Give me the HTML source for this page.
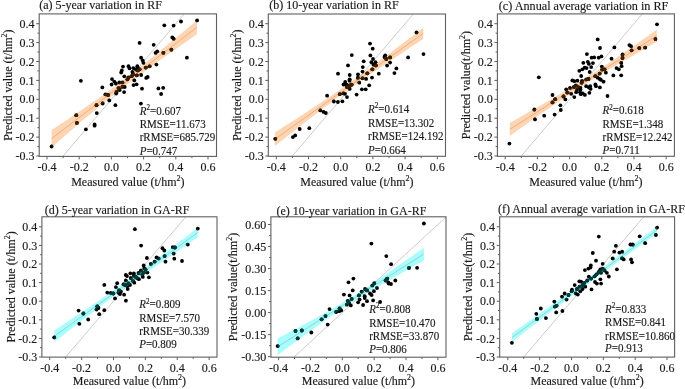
<!DOCTYPE html>
<html><head><meta charset="utf-8"><style>
html,body{margin:0;padding:0;background:#fff;}
svg{display:block;font-family:"Liberation Serif", serif;will-change:transform;} text{stroke:#1a1a1a;stroke-width:0.15px;}
</style></head><body>
<svg width="685" height="389" viewBox="0 0 685 389">
<rect width="685" height="389" fill="#fff"/>
<clipPath id="clipa"><rect x="39.2" y="13.9" width="177.3" height="142.5"/></clipPath>
<line x1="62.76" y1="156.4" x2="184.15" y2="13.9" stroke="#b0b0b0" stroke-width="0.65"/>
<path d="M51.6,130 L57.65,126 L63.71,121.98 L69.76,117.93 L75.82,113.86 L81.87,109.75 L87.93,105.61 L93.98,101.43 L100.03,97.19 L106.09,92.89 L112.14,88.51 L118.2,84.05 L124.25,79.5 L130.3,74.85 L136.36,70.12 L142.41,65.3 L148.47,60.43 L154.52,55.51 L160.58,50.55 L166.63,45.57 L172.68,40.57 L178.74,35.56 L184.79,30.54 L190.85,25.52 L196.9,20.5 L196.9,34.3 L190.85,38.55 L184.79,42.79 L178.74,47.04 L172.68,51.3 L166.63,55.57 L160.58,59.85 L154.52,64.16 L148.47,68.5 L142.41,72.9 L136.36,77.35 L130.3,81.88 L124.25,86.5 L118.2,91.21 L112.14,96.02 L106.09,100.91 L100.03,105.88 L93.98,110.91 L87.93,115.99 L81.87,121.12 L75.82,126.28 L69.76,131.47 L63.71,136.69 L57.65,141.94 L51.6,147.2Z" fill="#f57b07" fill-opacity="0.31" clip-path="url(#clipa)"/>
<line x1="51.6" y1="138.6" x2="196.9" y2="27.4" stroke="#f4805a" stroke-width="0.7" stroke-opacity="0.75"/>
<g fill="#000" clip-path="url(#clipa)"><circle cx="139.6" cy="42.9" r="1.9"/><circle cx="153.7" cy="44.8" r="1.9"/><circle cx="155.5" cy="52.8" r="1.9"/><circle cx="157.2" cy="51.3" r="1.9"/><circle cx="141.1" cy="57.7" r="1.9"/><circle cx="142.7" cy="60.3" r="1.9"/><circle cx="143.4" cy="62.8" r="1.9"/><circle cx="164.3" cy="25.3" r="1.9"/><circle cx="173.6" cy="25.6" r="1.9"/><circle cx="181" cy="21.5" r="1.9"/><circle cx="197.1" cy="20.4" r="1.9"/><circle cx="172.3" cy="37.4" r="1.9"/><circle cx="173.6" cy="38.7" r="1.9"/><circle cx="163.4" cy="52.8" r="1.9"/><circle cx="171.4" cy="49.7" r="1.9"/><circle cx="186.9" cy="57.7" r="1.9"/><circle cx="80.9" cy="80.8" r="1.9"/><circle cx="96.5" cy="105.2" r="1.9"/><circle cx="123" cy="66.6" r="1.9"/><circle cx="128.5" cy="66.2" r="1.9"/><circle cx="129.5" cy="68.3" r="1.9"/><circle cx="133.3" cy="68.1" r="1.9"/><circle cx="121.8" cy="70.4" r="1.9"/><circle cx="121.2" cy="72.5" r="1.9"/><circle cx="132.4" cy="72" r="1.9"/><circle cx="124.3" cy="76.3" r="1.9"/><circle cx="128.5" cy="77.3" r="1.9"/><circle cx="127.4" cy="79.3" r="1.9"/><circle cx="131.6" cy="76.2" r="1.9"/><circle cx="133.2" cy="74.3" r="1.9"/><circle cx="112" cy="79.1" r="1.9"/><circle cx="114.3" cy="81.6" r="1.9"/><circle cx="115.8" cy="83.5" r="1.9"/><circle cx="111.6" cy="84.5" r="1.9"/><circle cx="119.3" cy="82.4" r="1.9"/><circle cx="122.4" cy="82.4" r="1.9"/><circle cx="124.7" cy="87" r="1.9"/><circle cx="118.5" cy="88.1" r="1.9"/><circle cx="102.3" cy="87.4" r="1.9"/><circle cx="133.5" cy="85.1" r="1.9"/><circle cx="134.3" cy="80.4" r="1.9"/><circle cx="156.4" cy="64.6" r="1.9"/><circle cx="149.7" cy="66.3" r="1.9"/><circle cx="145.8" cy="67.6" r="1.9"/><circle cx="137.3" cy="66.2" r="1.9"/><circle cx="137.7" cy="67.7" r="1.9"/><circle cx="135.8" cy="69.3" r="1.9"/><circle cx="139.6" cy="69.3" r="1.9"/><circle cx="137.7" cy="70.4" r="1.9"/><circle cx="136.9" cy="75.4" r="1.9"/><circle cx="141.2" cy="75" r="1.9"/><circle cx="146.2" cy="77.9" r="1.9"/><circle cx="147.7" cy="77" r="1.9"/><circle cx="136.6" cy="84.3" r="1.9"/><circle cx="142" cy="88.7" r="1.9"/><circle cx="158.4" cy="88.4" r="1.9"/><circle cx="163.2" cy="87.8" r="1.9"/><circle cx="119.7" cy="90" r="1.9"/><circle cx="116.6" cy="91.9" r="1.9"/><circle cx="116.2" cy="93.5" r="1.9"/><circle cx="122.4" cy="86.9" r="1.9"/><circle cx="124.1" cy="92.1" r="1.9"/><circle cx="105.4" cy="94.3" r="1.9"/><circle cx="108.1" cy="95" r="1.9"/><circle cx="109.3" cy="100.4" r="1.9"/><circle cx="102.7" cy="103.5" r="1.9"/><circle cx="115.4" cy="105.2" r="1.9"/><circle cx="161.1" cy="94" r="1.9"/><circle cx="140.9" cy="103.6" r="1.9"/><circle cx="96.8" cy="113.1" r="1.9"/><circle cx="76.2" cy="115.2" r="1.9"/><circle cx="76.9" cy="122.9" r="1.9"/><circle cx="94.6" cy="124.4" r="1.9"/><circle cx="94.6" cy="125.7" r="1.9"/><circle cx="85.9" cy="129.3" r="1.9"/><circle cx="51.6" cy="146.5" r="1.9"/></g>
<clipPath id="bclipa"><path d="M51.6,130 L57.65,126 L63.71,121.98 L69.76,117.93 L75.82,113.86 L81.87,109.75 L87.93,105.61 L93.98,101.43 L100.03,97.19 L106.09,92.89 L112.14,88.51 L118.2,84.05 L124.25,79.5 L130.3,74.85 L136.36,70.12 L142.41,65.3 L148.47,60.43 L154.52,55.51 L160.58,50.55 L166.63,45.57 L172.68,40.57 L178.74,35.56 L184.79,30.54 L190.85,25.52 L196.9,20.5 L196.9,34.3 L190.85,38.55 L184.79,42.79 L178.74,47.04 L172.68,51.3 L166.63,55.57 L160.58,59.85 L154.52,64.16 L148.47,68.5 L142.41,72.9 L136.36,77.35 L130.3,81.88 L124.25,86.5 L118.2,91.21 L112.14,96.02 L106.09,100.91 L100.03,105.88 L93.98,110.91 L87.93,115.99 L81.87,121.12 L75.82,126.28 L69.76,131.47 L63.71,136.69 L57.65,141.94 L51.6,147.2Z"/></clipPath>
<g fill="#3a1e06" clip-path="url(#bclipa)"><circle cx="139.6" cy="42.9" r="1.9"/><circle cx="153.7" cy="44.8" r="1.9"/><circle cx="155.5" cy="52.8" r="1.9"/><circle cx="157.2" cy="51.3" r="1.9"/><circle cx="141.1" cy="57.7" r="1.9"/><circle cx="142.7" cy="60.3" r="1.9"/><circle cx="143.4" cy="62.8" r="1.9"/><circle cx="164.3" cy="25.3" r="1.9"/><circle cx="173.6" cy="25.6" r="1.9"/><circle cx="181" cy="21.5" r="1.9"/><circle cx="197.1" cy="20.4" r="1.9"/><circle cx="172.3" cy="37.4" r="1.9"/><circle cx="173.6" cy="38.7" r="1.9"/><circle cx="163.4" cy="52.8" r="1.9"/><circle cx="171.4" cy="49.7" r="1.9"/><circle cx="186.9" cy="57.7" r="1.9"/><circle cx="80.9" cy="80.8" r="1.9"/><circle cx="96.5" cy="105.2" r="1.9"/><circle cx="123" cy="66.6" r="1.9"/><circle cx="128.5" cy="66.2" r="1.9"/><circle cx="129.5" cy="68.3" r="1.9"/><circle cx="133.3" cy="68.1" r="1.9"/><circle cx="121.8" cy="70.4" r="1.9"/><circle cx="121.2" cy="72.5" r="1.9"/><circle cx="132.4" cy="72" r="1.9"/><circle cx="124.3" cy="76.3" r="1.9"/><circle cx="128.5" cy="77.3" r="1.9"/><circle cx="127.4" cy="79.3" r="1.9"/><circle cx="131.6" cy="76.2" r="1.9"/><circle cx="133.2" cy="74.3" r="1.9"/><circle cx="112" cy="79.1" r="1.9"/><circle cx="114.3" cy="81.6" r="1.9"/><circle cx="115.8" cy="83.5" r="1.9"/><circle cx="111.6" cy="84.5" r="1.9"/><circle cx="119.3" cy="82.4" r="1.9"/><circle cx="122.4" cy="82.4" r="1.9"/><circle cx="124.7" cy="87" r="1.9"/><circle cx="118.5" cy="88.1" r="1.9"/><circle cx="102.3" cy="87.4" r="1.9"/><circle cx="133.5" cy="85.1" r="1.9"/><circle cx="134.3" cy="80.4" r="1.9"/><circle cx="156.4" cy="64.6" r="1.9"/><circle cx="149.7" cy="66.3" r="1.9"/><circle cx="145.8" cy="67.6" r="1.9"/><circle cx="137.3" cy="66.2" r="1.9"/><circle cx="137.7" cy="67.7" r="1.9"/><circle cx="135.8" cy="69.3" r="1.9"/><circle cx="139.6" cy="69.3" r="1.9"/><circle cx="137.7" cy="70.4" r="1.9"/><circle cx="136.9" cy="75.4" r="1.9"/><circle cx="141.2" cy="75" r="1.9"/><circle cx="146.2" cy="77.9" r="1.9"/><circle cx="147.7" cy="77" r="1.9"/><circle cx="136.6" cy="84.3" r="1.9"/><circle cx="142" cy="88.7" r="1.9"/><circle cx="158.4" cy="88.4" r="1.9"/><circle cx="163.2" cy="87.8" r="1.9"/><circle cx="119.7" cy="90" r="1.9"/><circle cx="116.6" cy="91.9" r="1.9"/><circle cx="116.2" cy="93.5" r="1.9"/><circle cx="122.4" cy="86.9" r="1.9"/><circle cx="124.1" cy="92.1" r="1.9"/><circle cx="105.4" cy="94.3" r="1.9"/><circle cx="108.1" cy="95" r="1.9"/><circle cx="109.3" cy="100.4" r="1.9"/><circle cx="102.7" cy="103.5" r="1.9"/><circle cx="115.4" cy="105.2" r="1.9"/><circle cx="161.1" cy="94" r="1.9"/><circle cx="140.9" cy="103.6" r="1.9"/><circle cx="96.8" cy="113.1" r="1.9"/><circle cx="76.2" cy="115.2" r="1.9"/><circle cx="76.9" cy="122.9" r="1.9"/><circle cx="94.6" cy="124.4" r="1.9"/><circle cx="94.6" cy="125.7" r="1.9"/><circle cx="85.9" cy="129.3" r="1.9"/><circle cx="51.6" cy="146.5" r="1.9"/></g>
<rect x="39.2" y="13.9" width="177.3" height="142.5" fill="none" stroke="#5f5f5f" stroke-width="1.1"/>
<path d="M47,156.4v3 M63.1,156.4v1.8 M79.2,156.4v3 M95.3,156.4v1.8 M111.4,156.4v3 M127.5,156.4v1.8 M143.6,156.4v3 M159.7,156.4v1.8 M175.8,156.4v3 M191.9,156.4v1.8 M208,156.4v3 M39.2,156h-3 M39.2,146.55h-1.8 M39.2,137.1h-3 M39.2,127.65h-1.8 M39.2,118.2h-3 M39.2,108.75h-1.8 M39.2,99.3h-3 M39.2,89.85h-1.8 M39.2,80.4h-3 M39.2,70.95h-1.8 M39.2,61.5h-3 M39.2,52.05h-1.8 M39.2,42.6h-3 M39.2,33.15h-1.8 M39.2,23.7h-3" stroke="#5f5f5f" stroke-width="1" fill="none"/>
<g font-size="12" fill="#1a1a1a"><text x="47" y="170.9" text-anchor="middle">-0.4</text><text x="79.2" y="170.9" text-anchor="middle">-0.2</text><text x="111.4" y="170.9" text-anchor="middle">0.0</text><text x="143.6" y="170.9" text-anchor="middle">0.2</text><text x="175.8" y="170.9" text-anchor="middle">0.4</text><text x="208" y="170.9" text-anchor="middle">0.6</text><text x="34.6" y="160.1" text-anchor="end">-0.3</text><text x="34.6" y="141.2" text-anchor="end">-0.2</text><text x="34.6" y="122.3" text-anchor="end">-0.1</text><text x="34.6" y="103.4" text-anchor="end">0.0</text><text x="34.6" y="84.5" text-anchor="end">0.1</text><text x="34.6" y="65.6" text-anchor="end">0.2</text><text x="34.6" y="46.7" text-anchor="end">0.3</text><text x="34.6" y="27.8" text-anchor="end">0.4</text></g>
<text x="39.2" y="9" font-size="12" fill="#1a1a1a">(a) 5-year variation in RF</text>
<text x="127.85" y="186.4" font-size="12" fill="#1a1a1a" text-anchor="middle">Measured value (t/hm<tspan font-size="8" dy="-5">2</tspan><tspan dy="5">)</tspan></text>
<text transform="translate(11.8,85.15) rotate(-90)" font-size="12" fill="#1a1a1a" text-anchor="middle">Predicted value (t/hm<tspan font-size="8" dy="-5">2</tspan><tspan dy="5">)</tspan></text>
<g font-size="11.7" fill="#1a1a1a"><text transform="translate(139.7,114.5) scale(0.9402,1)"><tspan font-style="italic">R</tspan><tspan font-size="7.5" dy="-4.5">2</tspan><tspan dy="4.5">=</tspan>0.607</text><text transform="translate(139.7,127.6) scale(0.9402,1)">RMSE=11.673</text><text transform="translate(139.7,141.4) scale(0.9402,1)">rRMSE=685.729</text><text transform="translate(139.7,154.6) scale(0.9402,1)"><tspan font-style="italic">P</tspan>=0.747</text></g>
<clipPath id="clipb"><rect x="268.3" y="14" width="177.2" height="142.3"/></clipPath>
<line x1="292.14" y1="156.3" x2="413.36" y2="14" stroke="#b0b0b0" stroke-width="0.65"/>
<path d="M274.8,132.5 L280.99,128.56 L287.18,124.6 L293.36,120.63 L299.55,116.63 L305.74,112.61 L311.93,108.56 L318.11,104.48 L324.3,100.35 L330.49,96.18 L336.68,91.95 L342.86,87.66 L349.05,83.3 L355.24,78.87 L361.43,74.38 L367.61,69.84 L373.8,65.24 L379.99,60.61 L386.18,55.95 L392.36,51.27 L398.55,46.57 L404.74,41.86 L410.93,37.14 L417.11,32.42 L423.3,27.7 L423.3,38.9 L417.11,43.01 L410.93,47.12 L404.74,51.24 L398.55,55.36 L392.36,59.5 L386.18,63.65 L379.99,67.82 L373.8,72.02 L367.61,76.26 L361.43,80.55 L355.24,84.89 L349.05,89.3 L342.86,93.78 L336.68,98.32 L330.49,102.92 L324.3,107.58 L318.11,112.29 L311.93,117.04 L305.74,121.82 L299.55,126.64 L293.36,131.47 L287.18,136.33 L280.99,141.21 L274.8,146.1Z" fill="#f57b07" fill-opacity="0.31" clip-path="url(#clipb)"/>
<line x1="274.8" y1="139.3" x2="423.3" y2="33.3" stroke="#f4805a" stroke-width="0.7" stroke-opacity="0.75"/>
<g fill="#000" clip-path="url(#clipb)"><circle cx="370" cy="43.6" r="1.9"/><circle cx="372.7" cy="48.7" r="1.9"/><circle cx="351.8" cy="55.1" r="1.9"/><circle cx="370.4" cy="55.4" r="1.9"/><circle cx="373" cy="59" r="1.9"/><circle cx="363.7" cy="61.3" r="1.9"/><circle cx="371.4" cy="62.2" r="1.9"/><circle cx="375.5" cy="62.2" r="1.9"/><circle cx="385.2" cy="55.4" r="1.9"/><circle cx="384.5" cy="57" r="1.9"/><circle cx="416.5" cy="32.4" r="1.9"/><circle cx="423.5" cy="54.1" r="1.9"/><circle cx="408.1" cy="57.4" r="1.9"/><circle cx="390.1" cy="57.4" r="1.9"/><circle cx="386.3" cy="59" r="1.9"/><circle cx="390.1" cy="62.6" r="1.9"/><circle cx="327.1" cy="95.7" r="1.9"/><circle cx="348" cy="65.4" r="1.9"/><circle cx="338" cy="73.7" r="1.9"/><circle cx="349.7" cy="75" r="1.9"/><circle cx="349.7" cy="79.3" r="1.9"/><circle cx="349.5" cy="80.7" r="1.9"/><circle cx="358" cy="74.3" r="1.9"/><circle cx="357.8" cy="77.7" r="1.9"/><circle cx="345.2" cy="82" r="1.9"/><circle cx="343.5" cy="84.5" r="1.9"/><circle cx="346.6" cy="84.7" r="1.9"/><circle cx="349.7" cy="85.4" r="1.9"/><circle cx="351.6" cy="84.7" r="1.9"/><circle cx="347" cy="87" r="1.9"/><circle cx="349.7" cy="88.9" r="1.9"/><circle cx="359.3" cy="82.7" r="1.9"/><circle cx="373.4" cy="64.6" r="1.9"/><circle cx="375.9" cy="65.4" r="1.9"/><circle cx="387.1" cy="65.6" r="1.9"/><circle cx="362.8" cy="67.1" r="1.9"/><circle cx="372.3" cy="69.3" r="1.9"/><circle cx="362.5" cy="71.6" r="1.9"/><circle cx="367.3" cy="73.3" r="1.9"/><circle cx="378.8" cy="73.7" r="1.9"/><circle cx="362.5" cy="78.3" r="1.9"/><circle cx="366.1" cy="78.9" r="1.9"/><circle cx="372" cy="77.6" r="1.9"/><circle cx="369.2" cy="85.3" r="1.9"/><circle cx="361.9" cy="89.3" r="1.9"/><circle cx="365.7" cy="89.3" r="1.9"/><circle cx="396.4" cy="68.4" r="1.9"/><circle cx="394.4" cy="73.1" r="1.9"/><circle cx="339.9" cy="94.2" r="1.9"/><circle cx="343.5" cy="93.4" r="1.9"/><circle cx="345" cy="93.8" r="1.9"/><circle cx="347" cy="97.1" r="1.9"/><circle cx="356.6" cy="94.6" r="1.9"/><circle cx="333.9" cy="101.5" r="1.9"/><circle cx="337.9" cy="102" r="1.9"/><circle cx="342.4" cy="101.3" r="1.9"/><circle cx="320.4" cy="110.4" r="1.9"/><circle cx="323.5" cy="111.9" r="1.9"/><circle cx="325.8" cy="113" r="1.9"/><circle cx="299.7" cy="129" r="1.9"/><circle cx="309.3" cy="128.2" r="1.9"/><circle cx="295.2" cy="135.4" r="1.9"/><circle cx="292.9" cy="137.1" r="1.9"/><circle cx="275.2" cy="138.8" r="1.9"/></g>
<clipPath id="bclipb"><path d="M274.8,132.5 L280.99,128.56 L287.18,124.6 L293.36,120.63 L299.55,116.63 L305.74,112.61 L311.93,108.56 L318.11,104.48 L324.3,100.35 L330.49,96.18 L336.68,91.95 L342.86,87.66 L349.05,83.3 L355.24,78.87 L361.43,74.38 L367.61,69.84 L373.8,65.24 L379.99,60.61 L386.18,55.95 L392.36,51.27 L398.55,46.57 L404.74,41.86 L410.93,37.14 L417.11,32.42 L423.3,27.7 L423.3,38.9 L417.11,43.01 L410.93,47.12 L404.74,51.24 L398.55,55.36 L392.36,59.5 L386.18,63.65 L379.99,67.82 L373.8,72.02 L367.61,76.26 L361.43,80.55 L355.24,84.89 L349.05,89.3 L342.86,93.78 L336.68,98.32 L330.49,102.92 L324.3,107.58 L318.11,112.29 L311.93,117.04 L305.74,121.82 L299.55,126.64 L293.36,131.47 L287.18,136.33 L280.99,141.21 L274.8,146.1Z"/></clipPath>
<g fill="#3a1e06" clip-path="url(#bclipb)"><circle cx="370" cy="43.6" r="1.9"/><circle cx="372.7" cy="48.7" r="1.9"/><circle cx="351.8" cy="55.1" r="1.9"/><circle cx="370.4" cy="55.4" r="1.9"/><circle cx="373" cy="59" r="1.9"/><circle cx="363.7" cy="61.3" r="1.9"/><circle cx="371.4" cy="62.2" r="1.9"/><circle cx="375.5" cy="62.2" r="1.9"/><circle cx="385.2" cy="55.4" r="1.9"/><circle cx="384.5" cy="57" r="1.9"/><circle cx="416.5" cy="32.4" r="1.9"/><circle cx="423.5" cy="54.1" r="1.9"/><circle cx="408.1" cy="57.4" r="1.9"/><circle cx="390.1" cy="57.4" r="1.9"/><circle cx="386.3" cy="59" r="1.9"/><circle cx="390.1" cy="62.6" r="1.9"/><circle cx="327.1" cy="95.7" r="1.9"/><circle cx="348" cy="65.4" r="1.9"/><circle cx="338" cy="73.7" r="1.9"/><circle cx="349.7" cy="75" r="1.9"/><circle cx="349.7" cy="79.3" r="1.9"/><circle cx="349.5" cy="80.7" r="1.9"/><circle cx="358" cy="74.3" r="1.9"/><circle cx="357.8" cy="77.7" r="1.9"/><circle cx="345.2" cy="82" r="1.9"/><circle cx="343.5" cy="84.5" r="1.9"/><circle cx="346.6" cy="84.7" r="1.9"/><circle cx="349.7" cy="85.4" r="1.9"/><circle cx="351.6" cy="84.7" r="1.9"/><circle cx="347" cy="87" r="1.9"/><circle cx="349.7" cy="88.9" r="1.9"/><circle cx="359.3" cy="82.7" r="1.9"/><circle cx="373.4" cy="64.6" r="1.9"/><circle cx="375.9" cy="65.4" r="1.9"/><circle cx="387.1" cy="65.6" r="1.9"/><circle cx="362.8" cy="67.1" r="1.9"/><circle cx="372.3" cy="69.3" r="1.9"/><circle cx="362.5" cy="71.6" r="1.9"/><circle cx="367.3" cy="73.3" r="1.9"/><circle cx="378.8" cy="73.7" r="1.9"/><circle cx="362.5" cy="78.3" r="1.9"/><circle cx="366.1" cy="78.9" r="1.9"/><circle cx="372" cy="77.6" r="1.9"/><circle cx="369.2" cy="85.3" r="1.9"/><circle cx="361.9" cy="89.3" r="1.9"/><circle cx="365.7" cy="89.3" r="1.9"/><circle cx="396.4" cy="68.4" r="1.9"/><circle cx="394.4" cy="73.1" r="1.9"/><circle cx="339.9" cy="94.2" r="1.9"/><circle cx="343.5" cy="93.4" r="1.9"/><circle cx="345" cy="93.8" r="1.9"/><circle cx="347" cy="97.1" r="1.9"/><circle cx="356.6" cy="94.6" r="1.9"/><circle cx="333.9" cy="101.5" r="1.9"/><circle cx="337.9" cy="102" r="1.9"/><circle cx="342.4" cy="101.3" r="1.9"/><circle cx="320.4" cy="110.4" r="1.9"/><circle cx="323.5" cy="111.9" r="1.9"/><circle cx="325.8" cy="113" r="1.9"/><circle cx="299.7" cy="129" r="1.9"/><circle cx="309.3" cy="128.2" r="1.9"/><circle cx="295.2" cy="135.4" r="1.9"/><circle cx="292.9" cy="137.1" r="1.9"/><circle cx="275.2" cy="138.8" r="1.9"/></g>
<rect x="268.3" y="14" width="177.2" height="142.3" fill="none" stroke="#5f5f5f" stroke-width="1.1"/>
<path d="M276.3,156.3v3 M292.4,156.3v1.8 M308.5,156.3v3 M324.6,156.3v1.8 M340.7,156.3v3 M356.8,156.3v1.8 M372.9,156.3v3 M389,156.3v1.8 M405.1,156.3v3 M421.2,156.3v1.8 M437.3,156.3v3 M268.3,156h-3 M268.3,146.55h-1.8 M268.3,137.1h-3 M268.3,127.65h-1.8 M268.3,118.2h-3 M268.3,108.75h-1.8 M268.3,99.3h-3 M268.3,89.85h-1.8 M268.3,80.4h-3 M268.3,70.95h-1.8 M268.3,61.5h-3 M268.3,52.05h-1.8 M268.3,42.6h-3 M268.3,33.15h-1.8 M268.3,23.7h-3" stroke="#5f5f5f" stroke-width="1" fill="none"/>
<g font-size="12" fill="#1a1a1a"><text x="276.3" y="170.9" text-anchor="middle">-0.4</text><text x="308.5" y="170.9" text-anchor="middle">-0.2</text><text x="340.7" y="170.9" text-anchor="middle">0.0</text><text x="372.9" y="170.9" text-anchor="middle">0.2</text><text x="405.1" y="170.9" text-anchor="middle">0.4</text><text x="437.3" y="170.9" text-anchor="middle">0.6</text><text x="263.7" y="160.1" text-anchor="end">-0.3</text><text x="263.7" y="141.2" text-anchor="end">-0.2</text><text x="263.7" y="122.3" text-anchor="end">-0.1</text><text x="263.7" y="103.4" text-anchor="end">0.0</text><text x="263.7" y="84.5" text-anchor="end">0.1</text><text x="263.7" y="65.6" text-anchor="end">0.2</text><text x="263.7" y="46.7" text-anchor="end">0.3</text><text x="263.7" y="27.8" text-anchor="end">0.4</text></g>
<text x="269.3" y="9" font-size="12" fill="#1a1a1a">(b) 10-year variation in RF</text>
<text x="356.9" y="186.4" font-size="12" fill="#1a1a1a" text-anchor="middle">Measured value (t/hm<tspan font-size="8" dy="-5">2</tspan><tspan dy="5">)</tspan></text>
<text transform="translate(240.5,85.15) rotate(-90)" font-size="12" fill="#1a1a1a" text-anchor="middle">Predicted value (t/hm<tspan font-size="8" dy="-5">2</tspan><tspan dy="5">)</tspan></text>
<g font-size="11.7" fill="#1a1a1a"><text transform="translate(368,112.9) scale(0.9402,1)"><tspan font-style="italic">R</tspan><tspan font-size="7.5" dy="-4.5">2</tspan><tspan dy="4.5">=</tspan>0.614</text><text transform="translate(368,126.7) scale(0.9402,1)">RMSE=13.302</text><text transform="translate(368,140.1) scale(0.9402,1)">rRMSE=124.192</text><text transform="translate(368,153.8) scale(0.9402,1)"><tspan font-style="italic">P</tspan>=0.664</text></g>
<clipPath id="clipc"><rect x="497.4" y="13.9" width="177" height="142.4"/></clipPath>
<line x1="521.04" y1="156.3" x2="642.35" y2="13.9" stroke="#b0b0b0" stroke-width="0.65"/>
<path d="M509.8,122.9 L515.92,119.45 L522.05,115.99 L528.17,112.51 L534.3,109.02 L540.42,105.5 L546.55,101.97 L552.67,98.4 L558.8,94.79 L564.92,91.14 L571.05,87.43 L577.17,83.65 L583.3,79.8 L589.42,75.87 L595.55,71.87 L601.67,67.8 L607.8,63.68 L613.92,59.52 L620.05,55.32 L626.17,51.1 L632.3,46.86 L638.42,42.61 L644.55,38.35 L650.67,34.08 L656.8,29.8 L656.8,41.8 L650.67,45.32 L644.55,48.85 L638.42,52.39 L632.3,55.94 L626.17,59.5 L620.05,63.08 L613.92,66.68 L607.8,70.32 L601.67,74 L595.55,77.73 L589.42,81.53 L583.3,85.4 L577.17,89.35 L571.05,93.37 L564.92,97.46 L558.8,101.61 L552.67,105.8 L546.55,110.03 L540.42,114.3 L534.3,118.58 L528.17,122.89 L522.05,127.21 L515.92,131.55 L509.8,135.9Z" fill="#f57b07" fill-opacity="0.31" clip-path="url(#clipc)"/>
<line x1="509.8" y1="129.4" x2="656.8" y2="35.8" stroke="#f4805a" stroke-width="0.7" stroke-opacity="0.75"/>
<g fill="#000" clip-path="url(#clipc)"><circle cx="597.7" cy="39.4" r="1.9"/><circle cx="600" cy="48" r="1.9"/><circle cx="614.4" cy="47.4" r="1.9"/><circle cx="586.9" cy="54.1" r="1.9"/><circle cx="591.6" cy="57.7" r="1.9"/><circle cx="594.2" cy="57.4" r="1.9"/><circle cx="598.7" cy="57.7" r="1.9"/><circle cx="601.5" cy="56.4" r="1.9"/><circle cx="611.5" cy="58.7" r="1.9"/><circle cx="583.3" cy="62.8" r="1.9"/><circle cx="587.8" cy="61.8" r="1.9"/><circle cx="592.9" cy="63.1" r="1.9"/><circle cx="657" cy="24.3" r="1.9"/><circle cx="655.5" cy="39.1" r="1.9"/><circle cx="629.4" cy="45.1" r="1.9"/><circle cx="631" cy="46.2" r="1.9"/><circle cx="631.6" cy="50.3" r="1.9"/><circle cx="639.3" cy="48.1" r="1.9"/><circle cx="645.2" cy="47.7" r="1.9"/><circle cx="622.5" cy="54.5" r="1.9"/><circle cx="622.5" cy="58" r="1.9"/><circle cx="621.3" cy="62.9" r="1.9"/><circle cx="538.8" cy="77.3" r="1.9"/><circle cx="552.5" cy="95" r="1.9"/><circle cx="555.1" cy="99.2" r="1.9"/><circle cx="552.5" cy="102.4" r="1.9"/><circle cx="534.3" cy="109.5" r="1.9"/><circle cx="588.9" cy="63.9" r="1.9"/><circle cx="579.3" cy="70.8" r="1.9"/><circle cx="582.4" cy="69.3" r="1.9"/><circle cx="584.7" cy="67.7" r="1.9"/><circle cx="586.6" cy="68.1" r="1.9"/><circle cx="589.7" cy="72" r="1.9"/><circle cx="581.2" cy="76" r="1.9"/><circle cx="572.3" cy="80.4" r="1.9"/><circle cx="574.3" cy="81.2" r="1.9"/><circle cx="577.4" cy="80.7" r="1.9"/><circle cx="582" cy="80.8" r="1.9"/><circle cx="581.6" cy="82.7" r="1.9"/><circle cx="586.2" cy="79.4" r="1.9"/><circle cx="588.5" cy="78.9" r="1.9"/><circle cx="575.8" cy="85.4" r="1.9"/><circle cx="578.5" cy="87.4" r="1.9"/><circle cx="580.4" cy="87.8" r="1.9"/><circle cx="573.9" cy="87" r="1.9"/><circle cx="570" cy="87.8" r="1.9"/><circle cx="566.2" cy="89.3" r="1.9"/><circle cx="586.2" cy="86.2" r="1.9"/><circle cx="588.9" cy="87.4" r="1.9"/><circle cx="591.2" cy="67.1" r="1.9"/><circle cx="601.8" cy="66.6" r="1.9"/><circle cx="602.2" cy="69.6" r="1.9"/><circle cx="604.5" cy="69.3" r="1.9"/><circle cx="605.9" cy="72.7" r="1.9"/><circle cx="599.7" cy="73.7" r="1.9"/><circle cx="595.3" cy="76.2" r="1.9"/><circle cx="597.6" cy="77.7" r="1.9"/><circle cx="599.7" cy="78.9" r="1.9"/><circle cx="601" cy="79.9" r="1.9"/><circle cx="603.6" cy="81.7" r="1.9"/><circle cx="613.4" cy="75.4" r="1.9"/><circle cx="616.5" cy="68.1" r="1.9"/><circle cx="618.8" cy="69.3" r="1.9"/><circle cx="621.6" cy="66.2" r="1.9"/><circle cx="621.2" cy="75.3" r="1.9"/><circle cx="595.3" cy="84.5" r="1.9"/><circle cx="596" cy="86.2" r="1.9"/><circle cx="599.9" cy="87.4" r="1.9"/><circle cx="590.2" cy="86.2" r="1.9"/><circle cx="590.6" cy="88.9" r="1.9"/><circle cx="563.5" cy="96.5" r="1.9"/><circle cx="567.3" cy="92.6" r="1.9"/><circle cx="565.4" cy="99.4" r="1.9"/><circle cx="571.2" cy="93.8" r="1.9"/><circle cx="576.2" cy="92.2" r="1.9"/><circle cx="574.3" cy="97.1" r="1.9"/><circle cx="577" cy="89.9" r="1.9"/><circle cx="580.1" cy="92.2" r="1.9"/><circle cx="580.8" cy="94.2" r="1.9"/><circle cx="582.8" cy="93.4" r="1.9"/><circle cx="580.5" cy="89.5" r="1.9"/><circle cx="560.4" cy="105.3" r="1.9"/><circle cx="560.8" cy="110" r="1.9"/><circle cx="554.6" cy="114.6" r="1.9"/><circle cx="584.9" cy="94.9" r="1.9"/><circle cx="589.4" cy="92.8" r="1.9"/><circle cx="607.5" cy="96" r="1.9"/><circle cx="535" cy="119.4" r="1.9"/><circle cx="544.2" cy="115.7" r="1.9"/><circle cx="509.4" cy="143.6" r="1.9"/></g>
<clipPath id="bclipc"><path d="M509.8,122.9 L515.92,119.45 L522.05,115.99 L528.17,112.51 L534.3,109.02 L540.42,105.5 L546.55,101.97 L552.67,98.4 L558.8,94.79 L564.92,91.14 L571.05,87.43 L577.17,83.65 L583.3,79.8 L589.42,75.87 L595.55,71.87 L601.67,67.8 L607.8,63.68 L613.92,59.52 L620.05,55.32 L626.17,51.1 L632.3,46.86 L638.42,42.61 L644.55,38.35 L650.67,34.08 L656.8,29.8 L656.8,41.8 L650.67,45.32 L644.55,48.85 L638.42,52.39 L632.3,55.94 L626.17,59.5 L620.05,63.08 L613.92,66.68 L607.8,70.32 L601.67,74 L595.55,77.73 L589.42,81.53 L583.3,85.4 L577.17,89.35 L571.05,93.37 L564.92,97.46 L558.8,101.61 L552.67,105.8 L546.55,110.03 L540.42,114.3 L534.3,118.58 L528.17,122.89 L522.05,127.21 L515.92,131.55 L509.8,135.9Z"/></clipPath>
<g fill="#3a1e06" clip-path="url(#bclipc)"><circle cx="597.7" cy="39.4" r="1.9"/><circle cx="600" cy="48" r="1.9"/><circle cx="614.4" cy="47.4" r="1.9"/><circle cx="586.9" cy="54.1" r="1.9"/><circle cx="591.6" cy="57.7" r="1.9"/><circle cx="594.2" cy="57.4" r="1.9"/><circle cx="598.7" cy="57.7" r="1.9"/><circle cx="601.5" cy="56.4" r="1.9"/><circle cx="611.5" cy="58.7" r="1.9"/><circle cx="583.3" cy="62.8" r="1.9"/><circle cx="587.8" cy="61.8" r="1.9"/><circle cx="592.9" cy="63.1" r="1.9"/><circle cx="657" cy="24.3" r="1.9"/><circle cx="655.5" cy="39.1" r="1.9"/><circle cx="629.4" cy="45.1" r="1.9"/><circle cx="631" cy="46.2" r="1.9"/><circle cx="631.6" cy="50.3" r="1.9"/><circle cx="639.3" cy="48.1" r="1.9"/><circle cx="645.2" cy="47.7" r="1.9"/><circle cx="622.5" cy="54.5" r="1.9"/><circle cx="622.5" cy="58" r="1.9"/><circle cx="621.3" cy="62.9" r="1.9"/><circle cx="538.8" cy="77.3" r="1.9"/><circle cx="552.5" cy="95" r="1.9"/><circle cx="555.1" cy="99.2" r="1.9"/><circle cx="552.5" cy="102.4" r="1.9"/><circle cx="534.3" cy="109.5" r="1.9"/><circle cx="588.9" cy="63.9" r="1.9"/><circle cx="579.3" cy="70.8" r="1.9"/><circle cx="582.4" cy="69.3" r="1.9"/><circle cx="584.7" cy="67.7" r="1.9"/><circle cx="586.6" cy="68.1" r="1.9"/><circle cx="589.7" cy="72" r="1.9"/><circle cx="581.2" cy="76" r="1.9"/><circle cx="572.3" cy="80.4" r="1.9"/><circle cx="574.3" cy="81.2" r="1.9"/><circle cx="577.4" cy="80.7" r="1.9"/><circle cx="582" cy="80.8" r="1.9"/><circle cx="581.6" cy="82.7" r="1.9"/><circle cx="586.2" cy="79.4" r="1.9"/><circle cx="588.5" cy="78.9" r="1.9"/><circle cx="575.8" cy="85.4" r="1.9"/><circle cx="578.5" cy="87.4" r="1.9"/><circle cx="580.4" cy="87.8" r="1.9"/><circle cx="573.9" cy="87" r="1.9"/><circle cx="570" cy="87.8" r="1.9"/><circle cx="566.2" cy="89.3" r="1.9"/><circle cx="586.2" cy="86.2" r="1.9"/><circle cx="588.9" cy="87.4" r="1.9"/><circle cx="591.2" cy="67.1" r="1.9"/><circle cx="601.8" cy="66.6" r="1.9"/><circle cx="602.2" cy="69.6" r="1.9"/><circle cx="604.5" cy="69.3" r="1.9"/><circle cx="605.9" cy="72.7" r="1.9"/><circle cx="599.7" cy="73.7" r="1.9"/><circle cx="595.3" cy="76.2" r="1.9"/><circle cx="597.6" cy="77.7" r="1.9"/><circle cx="599.7" cy="78.9" r="1.9"/><circle cx="601" cy="79.9" r="1.9"/><circle cx="603.6" cy="81.7" r="1.9"/><circle cx="613.4" cy="75.4" r="1.9"/><circle cx="616.5" cy="68.1" r="1.9"/><circle cx="618.8" cy="69.3" r="1.9"/><circle cx="621.6" cy="66.2" r="1.9"/><circle cx="621.2" cy="75.3" r="1.9"/><circle cx="595.3" cy="84.5" r="1.9"/><circle cx="596" cy="86.2" r="1.9"/><circle cx="599.9" cy="87.4" r="1.9"/><circle cx="590.2" cy="86.2" r="1.9"/><circle cx="590.6" cy="88.9" r="1.9"/><circle cx="563.5" cy="96.5" r="1.9"/><circle cx="567.3" cy="92.6" r="1.9"/><circle cx="565.4" cy="99.4" r="1.9"/><circle cx="571.2" cy="93.8" r="1.9"/><circle cx="576.2" cy="92.2" r="1.9"/><circle cx="574.3" cy="97.1" r="1.9"/><circle cx="577" cy="89.9" r="1.9"/><circle cx="580.1" cy="92.2" r="1.9"/><circle cx="580.8" cy="94.2" r="1.9"/><circle cx="582.8" cy="93.4" r="1.9"/><circle cx="580.5" cy="89.5" r="1.9"/><circle cx="560.4" cy="105.3" r="1.9"/><circle cx="560.8" cy="110" r="1.9"/><circle cx="554.6" cy="114.6" r="1.9"/><circle cx="584.9" cy="94.9" r="1.9"/><circle cx="589.4" cy="92.8" r="1.9"/><circle cx="607.5" cy="96" r="1.9"/><circle cx="535" cy="119.4" r="1.9"/><circle cx="544.2" cy="115.7" r="1.9"/><circle cx="509.4" cy="143.6" r="1.9"/></g>
<rect x="497.4" y="13.9" width="177" height="142.4" fill="none" stroke="#5f5f5f" stroke-width="1.1"/>
<path d="M505.2,156.3v3 M521.3,156.3v1.8 M537.4,156.3v3 M553.5,156.3v1.8 M569.6,156.3v3 M585.7,156.3v1.8 M601.8,156.3v3 M617.9,156.3v1.8 M634,156.3v3 M650.1,156.3v1.8 M666.2,156.3v3 M497.4,156h-3 M497.4,146.55h-1.8 M497.4,137.1h-3 M497.4,127.65h-1.8 M497.4,118.2h-3 M497.4,108.75h-1.8 M497.4,99.3h-3 M497.4,89.85h-1.8 M497.4,80.4h-3 M497.4,70.95h-1.8 M497.4,61.5h-3 M497.4,52.05h-1.8 M497.4,42.6h-3 M497.4,33.15h-1.8 M497.4,23.7h-3" stroke="#5f5f5f" stroke-width="1" fill="none"/>
<g font-size="12" fill="#1a1a1a"><text x="505.2" y="170.9" text-anchor="middle">-0.4</text><text x="537.4" y="170.9" text-anchor="middle">-0.2</text><text x="569.6" y="170.9" text-anchor="middle">0.0</text><text x="601.8" y="170.9" text-anchor="middle">0.2</text><text x="634" y="170.9" text-anchor="middle">0.4</text><text x="666.2" y="170.9" text-anchor="middle">0.6</text><text x="492.8" y="160.1" text-anchor="end">-0.3</text><text x="492.8" y="141.2" text-anchor="end">-0.2</text><text x="492.8" y="122.3" text-anchor="end">-0.1</text><text x="492.8" y="103.4" text-anchor="end">0.0</text><text x="492.8" y="84.5" text-anchor="end">0.1</text><text x="492.8" y="65.6" text-anchor="end">0.2</text><text x="492.8" y="46.7" text-anchor="end">0.3</text><text x="492.8" y="27.8" text-anchor="end">0.4</text></g>
<text x="498.8" y="9.5" font-size="12.2" fill="#1a1a1a">(c) Annual average variation in RF</text>
<text x="585.9" y="186.4" font-size="12" fill="#1a1a1a" text-anchor="middle">Measured value (t/hm<tspan font-size="8" dy="-5">2</tspan><tspan dy="5">)</tspan></text>
<text transform="translate(469.9,85.1) rotate(-90)" font-size="12" fill="#1a1a1a" text-anchor="middle">Predicted value(t/hm<tspan font-size="8" dy="-5">2</tspan><tspan dy="5">)</tspan></text>
<g font-size="11.7" fill="#1a1a1a"><text transform="translate(602.5,114.2) scale(0.9402,1)"><tspan font-style="italic">R</tspan><tspan font-size="7.5" dy="-4.5">2</tspan><tspan dy="4.5">=</tspan>0.618</text><text transform="translate(602.5,127.6) scale(0.9402,1)">RMSE=1.348</text><text transform="translate(602.5,140.9) scale(0.9402,1)">rRMSE=12.242</text><text transform="translate(602.5,154.3) scale(0.9402,1)"><tspan font-style="italic">P</tspan>=0.711</text></g>
<clipPath id="clipd"><rect x="41.9" y="216.8" width="175.1" height="140.3"/></clipPath>
<line x1="65.59" y1="357.1" x2="185.83" y2="216.8" stroke="#b0b0b0" stroke-width="0.65"/>
<path d="M54.3,330.5 L60.28,326.55 L66.26,322.58 L72.24,318.6 L78.22,314.6 L84.2,310.58 L90.17,306.53 L96.15,302.45 L102.13,298.34 L108.11,294.19 L114.09,290.01 L120.07,285.78 L126.05,281.5 L132.03,277.18 L138.01,272.81 L143.99,268.41 L149.97,263.97 L155.95,259.5 L161.93,255.01 L167.9,250.5 L173.88,245.97 L179.86,241.44 L185.84,236.9 L191.82,232.35 L197.8,227.8 L197.8,237.2 L191.82,241.3 L185.84,245.4 L179.86,249.51 L173.88,253.63 L167.9,257.75 L161.93,261.89 L155.95,266.05 L149.97,270.23 L143.99,274.44 L138.01,278.69 L132.03,282.97 L126.05,287.3 L120.07,291.67 L114.09,296.09 L108.11,300.56 L102.13,305.06 L96.15,309.6 L90.17,314.17 L84.2,318.77 L78.22,323.4 L72.24,328.05 L66.26,332.72 L60.28,337.4 L54.3,342.1Z" fill="#05f8f8" fill-opacity="0.35" clip-path="url(#clipd)"/>
<line x1="54.3" y1="336.3" x2="197.8" y2="232.5" stroke="#8ab6b6" stroke-width="0.7" stroke-opacity="0.85"/>
<g fill="#000" clip-path="url(#clipd)"><circle cx="134.9" cy="229.2" r="1.9"/><circle cx="141.1" cy="245.6" r="1.9"/><circle cx="146.9" cy="258" r="1.9"/><circle cx="156.5" cy="257.4" r="1.9"/><circle cx="158.5" cy="258.4" r="1.9"/><circle cx="150.8" cy="263.8" r="1.9"/><circle cx="154.6" cy="261.6" r="1.9"/><circle cx="143.7" cy="265.5" r="1.9"/><circle cx="197.8" cy="228.6" r="1.9"/><circle cx="187.8" cy="244.6" r="1.9"/><circle cx="172.8" cy="247.1" r="1.9"/><circle cx="174.9" cy="247.5" r="1.9"/><circle cx="162.5" cy="248.2" r="1.9"/><circle cx="164.3" cy="250.5" r="1.9"/><circle cx="173.7" cy="253.6" r="1.9"/><circle cx="164.6" cy="256.1" r="1.9"/><circle cx="174.3" cy="258.7" r="1.9"/><circle cx="182" cy="261" r="1.9"/><circle cx="165.5" cy="261.7" r="1.9"/><circle cx="104.3" cy="284.9" r="1.9"/><circle cx="117.2" cy="283.2" r="1.9"/><circle cx="115.9" cy="287.1" r="1.9"/><circle cx="107.3" cy="292.6" r="1.9"/><circle cx="110.8" cy="292.8" r="1.9"/><circle cx="113.3" cy="293.5" r="1.9"/><circle cx="118.5" cy="292.8" r="1.9"/><circle cx="115" cy="298.4" r="1.9"/><circle cx="97.3" cy="306.3" r="1.9"/><circle cx="98.5" cy="308" r="1.9"/><circle cx="96.6" cy="309.5" r="1.9"/><circle cx="104.3" cy="310.2" r="1.9"/><circle cx="78.6" cy="310.6" r="1.9"/><circle cx="144.3" cy="268.4" r="1.9"/><circle cx="140.8" cy="270.7" r="1.9"/><circle cx="138.5" cy="273" r="1.9"/><circle cx="133.9" cy="273.4" r="1.9"/><circle cx="130.4" cy="273.3" r="1.9"/><circle cx="125.8" cy="275" r="1.9"/><circle cx="127" cy="276.1" r="1.9"/><circle cx="133.9" cy="275.7" r="1.9"/><circle cx="130.8" cy="278" r="1.9"/><circle cx="135.8" cy="276.9" r="1.9"/><circle cx="137.4" cy="278.4" r="1.9"/><circle cx="138.9" cy="279.2" r="1.9"/><circle cx="142.4" cy="274.6" r="1.9"/><circle cx="142.8" cy="276.9" r="1.9"/><circle cx="143.9" cy="272.6" r="1.9"/><circle cx="147.4" cy="272.6" r="1.9"/><circle cx="148.9" cy="277.3" r="1.9"/><circle cx="125.8" cy="280.4" r="1.9"/><circle cx="133.1" cy="281.1" r="1.9"/><circle cx="134.3" cy="282.7" r="1.9"/><circle cx="128.5" cy="283.4" r="1.9"/><circle cx="123.5" cy="284.2" r="1.9"/><circle cx="125" cy="285" r="1.9"/><circle cx="130" cy="285" r="1.9"/><circle cx="127.3" cy="286.1" r="1.9"/><circle cx="145.4" cy="269.3" r="1.9"/><circle cx="83.4" cy="313.5" r="1.9"/><circle cx="79.4" cy="323.8" r="1.9"/><circle cx="88.2" cy="319.5" r="1.9"/><circle cx="99.2" cy="314.2" r="1.9"/><circle cx="54.2" cy="337.4" r="1.9"/><circle cx="120.9" cy="291.7" r="1.9"/><circle cx="119.1" cy="290.4" r="1.9"/><circle cx="120" cy="294" r="1.9"/><circle cx="124.1" cy="294.7" r="1.9"/><circle cx="125.9" cy="300.7" r="1.9"/><circle cx="127.7" cy="289" r="1.9"/></g>
<clipPath id="bclipd"><path d="M54.3,330.5 L60.28,326.55 L66.26,322.58 L72.24,318.6 L78.22,314.6 L84.2,310.58 L90.17,306.53 L96.15,302.45 L102.13,298.34 L108.11,294.19 L114.09,290.01 L120.07,285.78 L126.05,281.5 L132.03,277.18 L138.01,272.81 L143.99,268.41 L149.97,263.97 L155.95,259.5 L161.93,255.01 L167.9,250.5 L173.88,245.97 L179.86,241.44 L185.84,236.9 L191.82,232.35 L197.8,227.8 L197.8,237.2 L191.82,241.3 L185.84,245.4 L179.86,249.51 L173.88,253.63 L167.9,257.75 L161.93,261.89 L155.95,266.05 L149.97,270.23 L143.99,274.44 L138.01,278.69 L132.03,282.97 L126.05,287.3 L120.07,291.67 L114.09,296.09 L108.11,300.56 L102.13,305.06 L96.15,309.6 L90.17,314.17 L84.2,318.77 L78.22,323.4 L72.24,328.05 L66.26,332.72 L60.28,337.4 L54.3,342.1Z"/></clipPath>
<g fill="#003c3c" clip-path="url(#bclipd)"><circle cx="134.9" cy="229.2" r="1.9"/><circle cx="141.1" cy="245.6" r="1.9"/><circle cx="146.9" cy="258" r="1.9"/><circle cx="156.5" cy="257.4" r="1.9"/><circle cx="158.5" cy="258.4" r="1.9"/><circle cx="150.8" cy="263.8" r="1.9"/><circle cx="154.6" cy="261.6" r="1.9"/><circle cx="143.7" cy="265.5" r="1.9"/><circle cx="197.8" cy="228.6" r="1.9"/><circle cx="187.8" cy="244.6" r="1.9"/><circle cx="172.8" cy="247.1" r="1.9"/><circle cx="174.9" cy="247.5" r="1.9"/><circle cx="162.5" cy="248.2" r="1.9"/><circle cx="164.3" cy="250.5" r="1.9"/><circle cx="173.7" cy="253.6" r="1.9"/><circle cx="164.6" cy="256.1" r="1.9"/><circle cx="174.3" cy="258.7" r="1.9"/><circle cx="182" cy="261" r="1.9"/><circle cx="165.5" cy="261.7" r="1.9"/><circle cx="104.3" cy="284.9" r="1.9"/><circle cx="117.2" cy="283.2" r="1.9"/><circle cx="115.9" cy="287.1" r="1.9"/><circle cx="107.3" cy="292.6" r="1.9"/><circle cx="110.8" cy="292.8" r="1.9"/><circle cx="113.3" cy="293.5" r="1.9"/><circle cx="118.5" cy="292.8" r="1.9"/><circle cx="115" cy="298.4" r="1.9"/><circle cx="97.3" cy="306.3" r="1.9"/><circle cx="98.5" cy="308" r="1.9"/><circle cx="96.6" cy="309.5" r="1.9"/><circle cx="104.3" cy="310.2" r="1.9"/><circle cx="78.6" cy="310.6" r="1.9"/><circle cx="144.3" cy="268.4" r="1.9"/><circle cx="140.8" cy="270.7" r="1.9"/><circle cx="138.5" cy="273" r="1.9"/><circle cx="133.9" cy="273.4" r="1.9"/><circle cx="130.4" cy="273.3" r="1.9"/><circle cx="125.8" cy="275" r="1.9"/><circle cx="127" cy="276.1" r="1.9"/><circle cx="133.9" cy="275.7" r="1.9"/><circle cx="130.8" cy="278" r="1.9"/><circle cx="135.8" cy="276.9" r="1.9"/><circle cx="137.4" cy="278.4" r="1.9"/><circle cx="138.9" cy="279.2" r="1.9"/><circle cx="142.4" cy="274.6" r="1.9"/><circle cx="142.8" cy="276.9" r="1.9"/><circle cx="143.9" cy="272.6" r="1.9"/><circle cx="147.4" cy="272.6" r="1.9"/><circle cx="148.9" cy="277.3" r="1.9"/><circle cx="125.8" cy="280.4" r="1.9"/><circle cx="133.1" cy="281.1" r="1.9"/><circle cx="134.3" cy="282.7" r="1.9"/><circle cx="128.5" cy="283.4" r="1.9"/><circle cx="123.5" cy="284.2" r="1.9"/><circle cx="125" cy="285" r="1.9"/><circle cx="130" cy="285" r="1.9"/><circle cx="127.3" cy="286.1" r="1.9"/><circle cx="145.4" cy="269.3" r="1.9"/><circle cx="83.4" cy="313.5" r="1.9"/><circle cx="79.4" cy="323.8" r="1.9"/><circle cx="88.2" cy="319.5" r="1.9"/><circle cx="99.2" cy="314.2" r="1.9"/><circle cx="54.2" cy="337.4" r="1.9"/><circle cx="120.9" cy="291.7" r="1.9"/><circle cx="119.1" cy="290.4" r="1.9"/><circle cx="120" cy="294" r="1.9"/><circle cx="124.1" cy="294.7" r="1.9"/><circle cx="125.9" cy="300.7" r="1.9"/><circle cx="127.7" cy="289" r="1.9"/></g>
<rect x="41.9" y="216.8" width="175.1" height="140.3" fill="none" stroke="#5f5f5f" stroke-width="1.1"/>
<path d="M49.74,357.1v3 M65.68,357.1v1.8 M81.62,357.1v3 M97.56,357.1v1.8 M113.5,357.1v3 M129.44,357.1v1.8 M145.38,357.1v3 M161.32,357.1v1.8 M177.26,357.1v3 M193.2,357.1v1.8 M209.14,357.1v3 M41.9,357h-3 M41.9,347.7h-1.8 M41.9,338.4h-3 M41.9,329.1h-1.8 M41.9,319.8h-3 M41.9,310.5h-1.8 M41.9,301.2h-3 M41.9,291.9h-1.8 M41.9,282.6h-3 M41.9,273.3h-1.8 M41.9,264h-3 M41.9,254.7h-1.8 M41.9,245.4h-3 M41.9,236.1h-1.8 M41.9,226.8h-3" stroke="#5f5f5f" stroke-width="1" fill="none"/>
<g font-size="12" fill="#1a1a1a"><text x="49.74" y="372" text-anchor="middle">-0.4</text><text x="81.62" y="372" text-anchor="middle">-0.2</text><text x="113.5" y="372" text-anchor="middle">0.0</text><text x="145.38" y="372" text-anchor="middle">0.2</text><text x="177.26" y="372" text-anchor="middle">0.4</text><text x="209.14" y="372" text-anchor="middle">0.6</text><text x="37.3" y="361.1" text-anchor="end">-0.3</text><text x="37.3" y="342.5" text-anchor="end">-0.2</text><text x="37.3" y="323.9" text-anchor="end">-0.1</text><text x="37.3" y="305.3" text-anchor="end">0.0</text><text x="37.3" y="286.7" text-anchor="end">0.1</text><text x="37.3" y="268.1" text-anchor="end">0.2</text><text x="37.3" y="249.5" text-anchor="end">0.3</text><text x="37.3" y="230.9" text-anchor="end">0.4</text></g>
<text x="44.8" y="214" font-size="12" fill="#1a1a1a">(d) 5-year variation in GA-RF</text>
<text x="129.45" y="385" font-size="12" fill="#1a1a1a" text-anchor="middle">Measured value (t/hm<tspan font-size="8" dy="-5">2</tspan><tspan dy="5">)</tspan></text>
<text transform="translate(14.9,286.95) rotate(-90)" font-size="12" fill="#1a1a1a" text-anchor="middle">Predicted value (t/hm<tspan font-size="8" dy="-5">2</tspan><tspan dy="5">)</tspan></text>
<g font-size="11.7" fill="#1a1a1a"><text transform="translate(139.2,308.4) scale(0.9402,1)"><tspan font-style="italic">R</tspan><tspan font-size="7.5" dy="-4.5">2</tspan><tspan dy="4.5">=</tspan>0.809</text><text transform="translate(139.2,322) scale(0.9402,1)">RMSE=7.570</text><text transform="translate(139.2,335.4) scale(0.9402,1)">rRMSE=30.339</text><text transform="translate(139.2,348.4) scale(0.9402,1)"><tspan font-style="italic">P</tspan>=0.809</text></g>
<clipPath id="clipe"><rect x="270.9" y="216.8" width="175.1" height="140.4"/></clipPath>
<line x1="293.9" y1="357.2" x2="446" y2="217.04" stroke="#b0b0b0" stroke-width="0.65"/>
<path d="M277.6,338.5 L283.7,335.31 L289.79,332.11 L295.89,328.88 L301.98,325.62 L308.08,322.34 L314.18,319.02 L320.27,315.67 L326.37,312.26 L332.46,308.79 L338.56,305.23 L344.65,301.57 L350.75,297.8 L356.85,293.9 L362.94,289.9 L369.04,285.81 L375.13,281.66 L381.23,277.46 L387.32,273.24 L393.42,269.01 L399.52,264.76 L405.61,260.52 L411.71,256.27 L417.8,252.03 L423.9,247.8 L423.9,260.2 L417.8,263.7 L411.71,267.19 L405.61,270.68 L399.52,274.17 L393.42,277.66 L387.32,281.16 L381.23,284.67 L375.13,288.21 L369.04,291.79 L362.94,295.43 L356.85,299.16 L350.75,303 L344.65,306.96 L338.56,311.04 L332.46,315.21 L326.37,319.48 L320.27,323.8 L314.18,328.18 L308.08,332.59 L301.98,337.04 L295.89,341.52 L289.79,346.03 L283.7,350.55 L277.6,355.1Z" fill="#05f8f8" fill-opacity="0.35" clip-path="url(#clipe)"/>
<line x1="277.6" y1="346.8" x2="423.9" y2="254" stroke="#8ab6b6" stroke-width="0.7" stroke-opacity="0.85"/>
<g fill="#000" clip-path="url(#clipe)"><circle cx="371.4" cy="243.6" r="1.9"/><circle cx="386.3" cy="256.1" r="1.9"/><circle cx="423.9" cy="223.5" r="1.9"/><circle cx="391.1" cy="264.2" r="1.9"/><circle cx="353.4" cy="278.6" r="1.9"/><circle cx="409" cy="268" r="1.9"/><circle cx="387.2" cy="278.6" r="1.9"/><circle cx="385.6" cy="280.5" r="1.9"/><circle cx="388.3" cy="282.4" r="1.9"/><circle cx="391" cy="284" r="1.9"/><circle cx="388.7" cy="283.6" r="1.9"/><circle cx="395.3" cy="280.5" r="1.9"/><circle cx="417.1" cy="267.8" r="1.9"/><circle cx="339.6" cy="308.5" r="1.9"/><circle cx="341.2" cy="310.4" r="1.9"/><circle cx="336.2" cy="312" r="1.9"/><circle cx="339.2" cy="311.2" r="1.9"/><circle cx="329.5" cy="309.1" r="1.9"/><circle cx="325.5" cy="316.1" r="1.9"/><circle cx="321.6" cy="319.3" r="1.9"/><circle cx="327.7" cy="324.6" r="1.9"/><circle cx="295.5" cy="331" r="1.9"/><circle cx="301.8" cy="330.5" r="1.9"/><circle cx="311.3" cy="332.5" r="1.9"/><circle cx="297.7" cy="338.4" r="1.9"/><circle cx="277.6" cy="346.1" r="1.9"/><circle cx="348.5" cy="282.3" r="1.9"/><circle cx="352.7" cy="290.4" r="1.9"/><circle cx="343.9" cy="294.6" r="1.9"/><circle cx="349.6" cy="295.4" r="1.9"/><circle cx="361.6" cy="291.6" r="1.9"/><circle cx="365" cy="288.9" r="1.9"/><circle cx="367" cy="290.4" r="1.9"/><circle cx="374.3" cy="283.1" r="1.9"/><circle cx="377" cy="288.1" r="1.9"/><circle cx="373.9" cy="291.2" r="1.9"/><circle cx="371.6" cy="295" r="1.9"/><circle cx="370" cy="293.5" r="1.9"/><circle cx="364.7" cy="296.2" r="1.9"/><circle cx="364.7" cy="298.1" r="1.9"/><circle cx="367" cy="301.2" r="1.9"/><circle cx="373.1" cy="300.4" r="1.9"/><circle cx="380.1" cy="302" r="1.9"/><circle cx="363.1" cy="305" r="1.9"/><circle cx="358.1" cy="302.3" r="1.9"/><circle cx="359.6" cy="299.6" r="1.9"/><circle cx="358.9" cy="295.4" r="1.9"/><circle cx="347.7" cy="300.8" r="1.9"/><circle cx="349.2" cy="303.1" r="1.9"/><circle cx="346.9" cy="304.7" r="1.9"/><circle cx="350.8" cy="305.4" r="1.9"/><circle cx="351.6" cy="298.9" r="1.9"/><circle cx="372.4" cy="285.4" r="1.9"/></g>
<clipPath id="bclipe"><path d="M277.6,338.5 L283.7,335.31 L289.79,332.11 L295.89,328.88 L301.98,325.62 L308.08,322.34 L314.18,319.02 L320.27,315.67 L326.37,312.26 L332.46,308.79 L338.56,305.23 L344.65,301.57 L350.75,297.8 L356.85,293.9 L362.94,289.9 L369.04,285.81 L375.13,281.66 L381.23,277.46 L387.32,273.24 L393.42,269.01 L399.52,264.76 L405.61,260.52 L411.71,256.27 L417.8,252.03 L423.9,247.8 L423.9,260.2 L417.8,263.7 L411.71,267.19 L405.61,270.68 L399.52,274.17 L393.42,277.66 L387.32,281.16 L381.23,284.67 L375.13,288.21 L369.04,291.79 L362.94,295.43 L356.85,299.16 L350.75,303 L344.65,306.96 L338.56,311.04 L332.46,315.21 L326.37,319.48 L320.27,323.8 L314.18,328.18 L308.08,332.59 L301.98,337.04 L295.89,341.52 L289.79,346.03 L283.7,350.55 L277.6,355.1Z"/></clipPath>
<g fill="#003c3c" clip-path="url(#bclipe)"><circle cx="371.4" cy="243.6" r="1.9"/><circle cx="386.3" cy="256.1" r="1.9"/><circle cx="423.9" cy="223.5" r="1.9"/><circle cx="391.1" cy="264.2" r="1.9"/><circle cx="353.4" cy="278.6" r="1.9"/><circle cx="409" cy="268" r="1.9"/><circle cx="387.2" cy="278.6" r="1.9"/><circle cx="385.6" cy="280.5" r="1.9"/><circle cx="388.3" cy="282.4" r="1.9"/><circle cx="391" cy="284" r="1.9"/><circle cx="388.7" cy="283.6" r="1.9"/><circle cx="395.3" cy="280.5" r="1.9"/><circle cx="417.1" cy="267.8" r="1.9"/><circle cx="339.6" cy="308.5" r="1.9"/><circle cx="341.2" cy="310.4" r="1.9"/><circle cx="336.2" cy="312" r="1.9"/><circle cx="339.2" cy="311.2" r="1.9"/><circle cx="329.5" cy="309.1" r="1.9"/><circle cx="325.5" cy="316.1" r="1.9"/><circle cx="321.6" cy="319.3" r="1.9"/><circle cx="327.7" cy="324.6" r="1.9"/><circle cx="295.5" cy="331" r="1.9"/><circle cx="301.8" cy="330.5" r="1.9"/><circle cx="311.3" cy="332.5" r="1.9"/><circle cx="297.7" cy="338.4" r="1.9"/><circle cx="277.6" cy="346.1" r="1.9"/><circle cx="348.5" cy="282.3" r="1.9"/><circle cx="352.7" cy="290.4" r="1.9"/><circle cx="343.9" cy="294.6" r="1.9"/><circle cx="349.6" cy="295.4" r="1.9"/><circle cx="361.6" cy="291.6" r="1.9"/><circle cx="365" cy="288.9" r="1.9"/><circle cx="367" cy="290.4" r="1.9"/><circle cx="374.3" cy="283.1" r="1.9"/><circle cx="377" cy="288.1" r="1.9"/><circle cx="373.9" cy="291.2" r="1.9"/><circle cx="371.6" cy="295" r="1.9"/><circle cx="370" cy="293.5" r="1.9"/><circle cx="364.7" cy="296.2" r="1.9"/><circle cx="364.7" cy="298.1" r="1.9"/><circle cx="367" cy="301.2" r="1.9"/><circle cx="373.1" cy="300.4" r="1.9"/><circle cx="380.1" cy="302" r="1.9"/><circle cx="363.1" cy="305" r="1.9"/><circle cx="358.1" cy="302.3" r="1.9"/><circle cx="359.6" cy="299.6" r="1.9"/><circle cx="358.9" cy="295.4" r="1.9"/><circle cx="347.7" cy="300.8" r="1.9"/><circle cx="349.2" cy="303.1" r="1.9"/><circle cx="346.9" cy="304.7" r="1.9"/><circle cx="350.8" cy="305.4" r="1.9"/><circle cx="351.6" cy="298.9" r="1.9"/><circle cx="372.4" cy="285.4" r="1.9"/></g>
<rect x="270.9" y="216.8" width="175.1" height="140.4" fill="none" stroke="#5f5f5f" stroke-width="1.1"/>
<path d="M278.58,357.2v3 M294.51,357.2v1.8 M310.44,357.2v3 M326.37,357.2v1.8 M342.3,357.2v3 M358.23,357.2v1.8 M374.16,357.2v3 M390.09,357.2v1.8 M406.02,357.2v3 M421.95,357.2v1.8 M437.88,357.2v3 M270.9,356.64h-3 M270.9,345.63h-1.8 M270.9,334.62h-3 M270.9,323.61h-1.8 M270.9,312.6h-3 M270.9,301.59h-1.8 M270.9,290.58h-3 M270.9,279.57h-1.8 M270.9,268.56h-3 M270.9,257.55h-1.8 M270.9,246.54h-3 M270.9,235.53h-1.8 M270.9,224.52h-3" stroke="#5f5f5f" stroke-width="1" fill="none"/>
<g font-size="12" fill="#1a1a1a"><text x="278.58" y="372" text-anchor="middle">-0.4</text><text x="310.44" y="372" text-anchor="middle">-0.2</text><text x="342.3" y="372" text-anchor="middle">0.0</text><text x="374.16" y="372" text-anchor="middle">0.2</text><text x="406.02" y="372" text-anchor="middle">0.4</text><text x="437.88" y="372" text-anchor="middle">0.6</text><text x="266.3" y="360.74" text-anchor="end">-0.30</text><text x="266.3" y="338.72" text-anchor="end">-0.15</text><text x="266.3" y="316.7" text-anchor="end">0.00</text><text x="266.3" y="294.68" text-anchor="end">0.15</text><text x="266.3" y="272.66" text-anchor="end">0.30</text><text x="266.3" y="250.64" text-anchor="end">0.45</text><text x="266.3" y="228.62" text-anchor="end">0.60</text></g>
<text x="276.4" y="214.6" font-size="12" fill="#1a1a1a">(e) 10-year variation in GA-RF</text>
<text x="358.45" y="385" font-size="12" fill="#1a1a1a" text-anchor="middle">Measured value (t/hm<tspan font-size="8" dy="-5">2</tspan><tspan dy="5">)</tspan></text>
<text transform="translate(237.3,287) rotate(-90)" font-size="12" fill="#1a1a1a" text-anchor="middle">Predicted value(t/hm<tspan font-size="8" dy="-5">2</tspan><tspan dy="5">)</tspan></text>
<g font-size="11.7" fill="#1a1a1a"><text transform="translate(369.2,312.9) scale(0.9402,1)"><tspan font-style="italic">R</tspan><tspan font-size="7.5" dy="-4.5">2</tspan><tspan dy="4.5">=</tspan>0.808</text><text transform="translate(369.2,326.7) scale(0.9402,1)">RMSE=10.470</text><text transform="translate(369.2,339.7) scale(0.9402,1)">rRMSE=33.870</text><text transform="translate(369.2,352.6) scale(0.9402,1)"><tspan font-style="italic">P</tspan>=0.806</text></g>
<clipPath id="clipf"><rect x="499.7" y="216.8" width="174.9" height="140.3"/></clipPath>
<line x1="523.65" y1="357.1" x2="643.74" y2="216.8" stroke="#b0b0b0" stroke-width="0.65"/>
<path d="M512,333.4 L518.04,329.12 L524.08,324.83 L530.12,320.52 L536.17,316.2 L542.21,311.87 L548.25,307.53 L554.29,303.17 L560.33,298.79 L566.38,294.4 L572.42,289.98 L578.46,285.55 L584.5,281.1 L590.54,276.63 L596.58,272.14 L602.62,267.64 L608.67,263.12 L614.71,258.59 L620.75,254.05 L626.79,249.49 L632.83,244.92 L638.88,240.35 L644.92,235.77 L650.96,231.19 L657,226.6 L657,233.4 L650.96,237.78 L644.92,242.16 L638.88,246.55 L632.83,250.94 L626.79,255.34 L620.75,259.75 L614.71,264.18 L608.67,268.61 L602.62,273.06 L596.58,277.52 L590.54,282 L584.5,286.5 L578.46,291.02 L572.42,295.55 L566.38,300.1 L560.33,304.68 L554.29,309.27 L548.25,313.87 L542.21,318.49 L536.17,323.13 L530.12,327.78 L524.08,332.44 L518.04,337.12 L512,341.8Z" fill="#05f8f8" fill-opacity="0.35" clip-path="url(#clipf)"/>
<line x1="512" y1="337.6" x2="657" y2="230" stroke="#8ab6b6" stroke-width="0.7" stroke-opacity="0.85"/>
<g fill="#000" clip-path="url(#clipf)"><circle cx="598.8" cy="236.6" r="1.9"/><circle cx="615.9" cy="245.8" r="1.9"/><circle cx="592.8" cy="253" r="1.9"/><circle cx="614.2" cy="251.7" r="1.9"/><circle cx="619.4" cy="252.6" r="1.9"/><circle cx="596" cy="260.7" r="1.9"/><circle cx="612.7" cy="258.4" r="1.9"/><circle cx="602.7" cy="263.8" r="1.9"/><circle cx="590.8" cy="265.5" r="1.9"/><circle cx="657.1" cy="227.6" r="1.9"/><circle cx="655.9" cy="235" r="1.9"/><circle cx="639.7" cy="236.3" r="1.9"/><circle cx="645.2" cy="243.2" r="1.9"/><circle cx="630.4" cy="244.5" r="1.9"/><circle cx="632.7" cy="244.5" r="1.9"/><circle cx="622.1" cy="251.7" r="1.9"/><circle cx="622.1" cy="258.4" r="1.9"/><circle cx="623.7" cy="259.4" r="1.9"/><circle cx="631.1" cy="259.4" r="1.9"/><circle cx="632" cy="262.3" r="1.9"/><circle cx="574.7" cy="285.1" r="1.9"/><circle cx="579.3" cy="281.3" r="1.9"/><circle cx="572" cy="289.7" r="1.9"/><circle cx="577" cy="289" r="1.9"/><circle cx="584.9" cy="270.1" r="1.9"/><circle cx="588.4" cy="268.6" r="1.9"/><circle cx="590.5" cy="267.5" r="1.9"/><circle cx="600.4" cy="269.3" r="1.9"/><circle cx="602.7" cy="268.6" r="1.9"/><circle cx="598.8" cy="272" r="1.9"/><circle cx="601.1" cy="272.8" r="1.9"/><circle cx="604.6" cy="270.5" r="1.9"/><circle cx="606.9" cy="272.8" r="1.9"/><circle cx="608.8" cy="276.5" r="1.9"/><circle cx="616.9" cy="269.3" r="1.9"/><circle cx="596.5" cy="274.3" r="1.9"/><circle cx="594.6" cy="276.3" r="1.9"/><circle cx="588.8" cy="276.6" r="1.9"/><circle cx="591.1" cy="278.6" r="1.9"/><circle cx="587.2" cy="280.5" r="1.9"/><circle cx="600.4" cy="279.3" r="1.9"/><circle cx="595" cy="282" r="1.9"/><circle cx="596.9" cy="283.6" r="1.9"/><circle cx="601.1" cy="283.6" r="1.9"/><circle cx="581.1" cy="281.7" r="1.9"/><circle cx="584.2" cy="282.8" r="1.9"/><circle cx="582.6" cy="285.1" r="1.9"/><circle cx="579.5" cy="286.7" r="1.9"/><circle cx="585.3" cy="286.7" r="1.9"/><circle cx="591.5" cy="289.4" r="1.9"/><circle cx="582.6" cy="289" r="1.9"/><circle cx="580.3" cy="291.3" r="1.9"/><circle cx="564.7" cy="293.5" r="1.9"/><circle cx="562" cy="296.6" r="1.9"/><circle cx="568.5" cy="295" r="1.9"/><circle cx="566.6" cy="299.6" r="1.9"/><circle cx="571.6" cy="291.2" r="1.9"/><circle cx="575.8" cy="293.5" r="1.9"/><circle cx="577.8" cy="294.6" r="1.9"/><circle cx="554.3" cy="301.6" r="1.9"/><circle cx="555" cy="306.6" r="1.9"/><circle cx="556.6" cy="305.8" r="1.9"/><circle cx="540.8" cy="308.5" r="1.9"/><circle cx="556.2" cy="312.4" r="1.9"/><circle cx="562.4" cy="311" r="1.9"/><circle cx="536.3" cy="313.8" r="1.9"/><circle cx="536.9" cy="318.9" r="1.9"/><circle cx="545.9" cy="318.1" r="1.9"/><circle cx="511.9" cy="342.8" r="1.9"/></g>
<clipPath id="bclipf"><path d="M512,333.4 L518.04,329.12 L524.08,324.83 L530.12,320.52 L536.17,316.2 L542.21,311.87 L548.25,307.53 L554.29,303.17 L560.33,298.79 L566.38,294.4 L572.42,289.98 L578.46,285.55 L584.5,281.1 L590.54,276.63 L596.58,272.14 L602.62,267.64 L608.67,263.12 L614.71,258.59 L620.75,254.05 L626.79,249.49 L632.83,244.92 L638.88,240.35 L644.92,235.77 L650.96,231.19 L657,226.6 L657,233.4 L650.96,237.78 L644.92,242.16 L638.88,246.55 L632.83,250.94 L626.79,255.34 L620.75,259.75 L614.71,264.18 L608.67,268.61 L602.62,273.06 L596.58,277.52 L590.54,282 L584.5,286.5 L578.46,291.02 L572.42,295.55 L566.38,300.1 L560.33,304.68 L554.29,309.27 L548.25,313.87 L542.21,318.49 L536.17,323.13 L530.12,327.78 L524.08,332.44 L518.04,337.12 L512,341.8Z"/></clipPath>
<g fill="#003c3c" clip-path="url(#bclipf)"><circle cx="598.8" cy="236.6" r="1.9"/><circle cx="615.9" cy="245.8" r="1.9"/><circle cx="592.8" cy="253" r="1.9"/><circle cx="614.2" cy="251.7" r="1.9"/><circle cx="619.4" cy="252.6" r="1.9"/><circle cx="596" cy="260.7" r="1.9"/><circle cx="612.7" cy="258.4" r="1.9"/><circle cx="602.7" cy="263.8" r="1.9"/><circle cx="590.8" cy="265.5" r="1.9"/><circle cx="657.1" cy="227.6" r="1.9"/><circle cx="655.9" cy="235" r="1.9"/><circle cx="639.7" cy="236.3" r="1.9"/><circle cx="645.2" cy="243.2" r="1.9"/><circle cx="630.4" cy="244.5" r="1.9"/><circle cx="632.7" cy="244.5" r="1.9"/><circle cx="622.1" cy="251.7" r="1.9"/><circle cx="622.1" cy="258.4" r="1.9"/><circle cx="623.7" cy="259.4" r="1.9"/><circle cx="631.1" cy="259.4" r="1.9"/><circle cx="632" cy="262.3" r="1.9"/><circle cx="574.7" cy="285.1" r="1.9"/><circle cx="579.3" cy="281.3" r="1.9"/><circle cx="572" cy="289.7" r="1.9"/><circle cx="577" cy="289" r="1.9"/><circle cx="584.9" cy="270.1" r="1.9"/><circle cx="588.4" cy="268.6" r="1.9"/><circle cx="590.5" cy="267.5" r="1.9"/><circle cx="600.4" cy="269.3" r="1.9"/><circle cx="602.7" cy="268.6" r="1.9"/><circle cx="598.8" cy="272" r="1.9"/><circle cx="601.1" cy="272.8" r="1.9"/><circle cx="604.6" cy="270.5" r="1.9"/><circle cx="606.9" cy="272.8" r="1.9"/><circle cx="608.8" cy="276.5" r="1.9"/><circle cx="616.9" cy="269.3" r="1.9"/><circle cx="596.5" cy="274.3" r="1.9"/><circle cx="594.6" cy="276.3" r="1.9"/><circle cx="588.8" cy="276.6" r="1.9"/><circle cx="591.1" cy="278.6" r="1.9"/><circle cx="587.2" cy="280.5" r="1.9"/><circle cx="600.4" cy="279.3" r="1.9"/><circle cx="595" cy="282" r="1.9"/><circle cx="596.9" cy="283.6" r="1.9"/><circle cx="601.1" cy="283.6" r="1.9"/><circle cx="581.1" cy="281.7" r="1.9"/><circle cx="584.2" cy="282.8" r="1.9"/><circle cx="582.6" cy="285.1" r="1.9"/><circle cx="579.5" cy="286.7" r="1.9"/><circle cx="585.3" cy="286.7" r="1.9"/><circle cx="591.5" cy="289.4" r="1.9"/><circle cx="582.6" cy="289" r="1.9"/><circle cx="580.3" cy="291.3" r="1.9"/><circle cx="564.7" cy="293.5" r="1.9"/><circle cx="562" cy="296.6" r="1.9"/><circle cx="568.5" cy="295" r="1.9"/><circle cx="566.6" cy="299.6" r="1.9"/><circle cx="571.6" cy="291.2" r="1.9"/><circle cx="575.8" cy="293.5" r="1.9"/><circle cx="577.8" cy="294.6" r="1.9"/><circle cx="554.3" cy="301.6" r="1.9"/><circle cx="555" cy="306.6" r="1.9"/><circle cx="556.6" cy="305.8" r="1.9"/><circle cx="540.8" cy="308.5" r="1.9"/><circle cx="556.2" cy="312.4" r="1.9"/><circle cx="562.4" cy="311" r="1.9"/><circle cx="536.3" cy="313.8" r="1.9"/><circle cx="536.9" cy="318.9" r="1.9"/><circle cx="545.9" cy="318.1" r="1.9"/><circle cx="511.9" cy="342.8" r="1.9"/></g>
<rect x="499.7" y="216.8" width="174.9" height="140.3" fill="none" stroke="#5f5f5f" stroke-width="1.1"/>
<path d="M507.82,357.1v3 M523.74,357.1v1.8 M539.66,357.1v3 M555.58,357.1v1.8 M571.5,357.1v3 M587.42,357.1v1.8 M603.34,357.1v3 M619.26,357.1v1.8 M635.18,357.1v3 M651.1,357.1v1.8 M667.02,357.1v3 M499.7,357h-3 M499.7,347.7h-1.8 M499.7,338.4h-3 M499.7,329.1h-1.8 M499.7,319.8h-3 M499.7,310.5h-1.8 M499.7,301.2h-3 M499.7,291.9h-1.8 M499.7,282.6h-3 M499.7,273.3h-1.8 M499.7,264h-3 M499.7,254.7h-1.8 M499.7,245.4h-3 M499.7,236.1h-1.8 M499.7,226.8h-3" stroke="#5f5f5f" stroke-width="1" fill="none"/>
<g font-size="12" fill="#1a1a1a"><text x="507.82" y="372" text-anchor="middle">-0.4</text><text x="539.66" y="372" text-anchor="middle">-0.2</text><text x="571.5" y="372" text-anchor="middle">0.0</text><text x="603.34" y="372" text-anchor="middle">0.2</text><text x="635.18" y="372" text-anchor="middle">0.4</text><text x="667.02" y="372" text-anchor="middle">0.6</text><text x="495.1" y="361.1" text-anchor="end">-0.3</text><text x="495.1" y="342.5" text-anchor="end">-0.2</text><text x="495.1" y="323.9" text-anchor="end">-0.1</text><text x="495.1" y="305.3" text-anchor="end">0.0</text><text x="495.1" y="286.7" text-anchor="end">0.1</text><text x="495.1" y="268.1" text-anchor="end">0.2</text><text x="495.1" y="249.5" text-anchor="end">0.3</text><text x="495.1" y="230.9" text-anchor="end">0.4</text></g>
<text x="498" y="213.3" font-size="12" fill="#1a1a1a">(f) Annual average variation in GA-RF</text>
<text x="587.15" y="385" font-size="12" fill="#1a1a1a" text-anchor="middle">Measured value (t/hm<tspan font-size="8" dy="-5">2</tspan><tspan dy="5">)</tspan></text>
<text transform="translate(471.7,286.95) rotate(-90)" font-size="12" fill="#1a1a1a" text-anchor="middle">Predicted value(t/hm<tspan font-size="8" dy="-5">2</tspan><tspan dy="5">)</tspan></text>
<g font-size="11.7" fill="#1a1a1a"><text transform="translate(605.1,312.6) scale(0.9402,1)"><tspan font-style="italic">R</tspan><tspan font-size="7.5" dy="-4.5">2</tspan><tspan dy="4.5">=</tspan>0.833</text><text transform="translate(605.1,326.3) scale(0.9402,1)">RMSE=0.841</text><text transform="translate(605.1,339.6) scale(0.9402,1)">rRMSE=10.860</text><text transform="translate(605.1,351.9) scale(0.9402,1)"><tspan font-style="italic">P</tspan>=0.913</text></g>
</svg>
</body></html>
